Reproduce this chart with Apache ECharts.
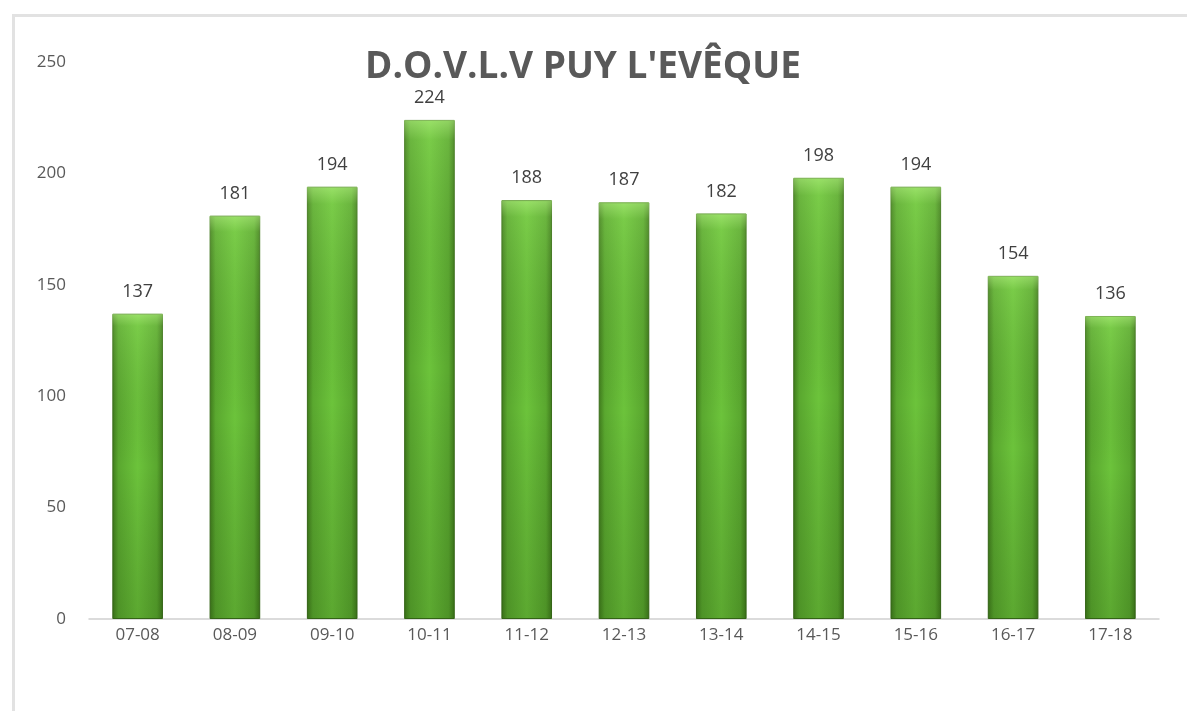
<!DOCTYPE html>
<html>
<head>
<meta charset="utf-8">
<script src="https://cdn.jsdelivr.net/npm/echarts@6/dist/echarts.min.js"></script>
<style>
  html, body { margin: 0; padding: 0; background: #fff; }
  #frame {
    position: absolute; left: 12px; top: 14px; width: 1200px; height: 720px;
    border-left: 3px solid #e2e2e2; border-top: 3px solid #e2e2e2;
  }
  #chart { position: absolute; left: 0; top: 0; width: 1187px; height: 711px; }
</style>
</head>
<body>
<div id="frame"></div>
<div id="chart"></div>
<script>
// saisons et effectifs
const seasons = ['07-08', '08-09', '09-10', '10-11', '11-12', '12-13', '13-14', '14-15', '15-16', '16-17', '17-18']
const counts = [137, 181, 194, 224, 188, 187, 182, 198, 194, 154, 136]
const yTicks = [0, 50, 100, 150, 200, 250]

const chart = echarts.init(document.getElementById('chart'))

// dégradé horizontal : bords foncés, centre clair
const barColor = new echarts.graphic.LinearGradient(0, 0, 1, 0, [
  { offset: 0, color: '#3f7a1c' },
  { offset: 0.12, color: '#5aa82f' },
  { offset: 0.5, color: '#6cc33b' },
  { offset: 0.88, color: '#5aa82f' },
  { offset: 1, color: '#3f7a1c' }
])
// voile vertical : haut plus clair, bas plus sombre
const shade = new echarts.graphic.LinearGradient(0, 0, 0, 1, [
  { offset: 0, color: 'rgba(200,255,150,0.5)' },
  { offset: 0.04, color: 'rgba(200,255,150,0.15)' },
  { offset: 0.5, color: 'rgba(0,0,0,0)' },
  { offset: 1, color: 'rgba(20,50,0,0.18)' }
])

const option = {
  animation: false,
  title: {
    text: "D.O.V.L.V PUY L'EVÊQUE",
    left: 360,
    top: 44,
    textStyle: {
      fontFamily: 'Open Sans',
      fontWeight: 'bold',
      fontSize: 37,
      color: '#595959'
    }
  },
  grid: {
    left: 89,
    right: 28,
    top: 62,
    bottom: 92
  },
  xAxis: {
    type: 'category',
    data: seasons,
    axisLine: { lineStyle: { color: '#d0d0d0', width: 1.5 } },
    axisTick: { show: false },
    axisLabel: {
      color: '#595959',
      fontFamily: 'Open Sans',
      fontSize: 17,
      margin: 8
    }
  },
  yAxis: {
    type: 'value',
    min: yTicks[0],
    max: yTicks[yTicks.length - 1],
    interval: 50,
    splitLine: { show: false },
    axisLine: { show: false },
    axisTick: { show: false },
    axisLabel: {
      color: '#595959',
      fontFamily: 'Open Sans',
      fontSize: 17,
      margin: 23
    }
  },
  series: [
    {
      type: 'bar',
      data: counts,
      barWidth: '52%',
      itemStyle: {
        color: barColor,
        borderColor: '#3a6e1a',
        borderWidth: 1
      },
      label: {
        show: true,
        position: 'top',
        distance: 13,
        color: '#404040',
        fontFamily: 'Open Sans',
        fontSize: 18
      }
    },
    {
      type: 'bar',
      data: counts,
      barWidth: '52%',
      barGap: '-100%',
      silent: true,
      itemStyle: { color: shade }
    }
  ]
}
chart.setOption(option)
</script>
</body>
</html>
